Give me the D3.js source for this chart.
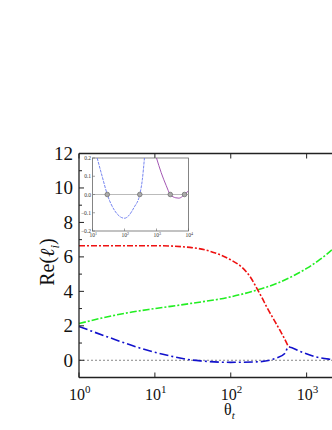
<!DOCTYPE html>
<html>
<head>
<meta charset="utf-8">
<script src="https://cdn.jsdelivr.net/npm/d3@7"></script>
<style>
body{margin:0;background:#fff;overflow:hidden}
svg text{font-family:"Liberation Serif","Times New Roman",serif}
</style>
</head>
<body>
<script>
// main curves (theta_t, Re value)
const redTheta=[1,10,29,53,98,140,180,219,260,297,400,470,550,575,600]
const redVal=[6.65,6.65,6.55,6.33,5.85,5.4,4.85,4.2,3.6,3.1,2.1,1.55,0.97,0.8,0.78]
const greenTheta=[1,2,5,10,30,100,200,400,700,1000,1500,2200,3000]
const greenVal=[2.13,2.45,2.8,3.0,3.3,3.68,4.02,4.45,4.95,5.33,5.85,6.45,7.1]
const blueTheta=[1,2.4,6.7,18.4,30,41,100,200,300,400,515,575,815,1350,2000,3000]
const blueVal=[1.96,1.35,0.68,0.19,0.02,-0.04,-0.12,-0.1,-0.03,0.13,0.39,0.77,0.52,0.19,0.06,-0.02]
// inset curves
const inBlueTheta=[14,20,29,50,100,200,300,360,420]
const inBlueVal=[0.2,0.1,0,-0.09,-0.13,-0.07,0,0.08,0.2]
const inRedTheta=[1000,1400,2000,2700,4000,5000,6500,7500,10000]
const inRedVal=[0.2,0.12,0.05,0,-0.018,-0.02,-0.01,0,0.02]
const inZeros=[29,300,2700,7500]
const yTicks=[0,2,4,6,8,10,12]
const xTicks=[0,1,2,3,4]
const inYTicks=[-0.2,-0.1,0.0,0.1,0.2]
const inXTicks=[1,2,3,4]

const W=332,H=430
const svg=d3.select("body").append("svg").attr("width",W).attr("height",H)

const x=d3.scaleLog().domain([1,1e4]).range([79,382.5])
const y=d3.scaleLinear().domain([-1,12]).range([377.5,153.5])

// zero reference
svg.append("line").attr("x1",x(1)).attr("x2",W).attr("y1",y(0)).attr("y2",y(0))
 .attr("stroke","#888").attr("stroke-width",1).attr("stroke-dasharray","2,2")

const line=d3.line().x(d=>x(d[0])).y(d=>y(d[1])).curve(d3.curveMonotoneX)
const series=[
 {t:greenTheta,v:greenVal,c:"#22ee22",dash:"7,2,2,2"},
 {t:redTheta,v:redVal,c:"#ee1111",dash:"6,2,2,2"},
 {t:blueTheta,v:blueVal,c:"#1111cc",dash:"9,3,2,3"}
]
series.forEach(s=>{
 svg.append("path").datum(s.t.map((t,i)=>[t,s.v[i]]))
  .attr("d",line).attr("fill","none").attr("stroke",s.c)
  .attr("stroke-width",1.6).attr("stroke-dasharray",s.dash)
})

// axes frame
const ax="#222"
svg.append("line").attr("x1",x(1)).attr("x2",x(1)).attr("y1",y(12)).attr("y2",y(-1)).attr("stroke",ax).attr("stroke-width",1.3)
svg.append("line").attr("x1",x(1)).attr("x2",W).attr("y1",y(-1)).attr("y2",y(-1)).attr("stroke",ax).attr("stroke-width",1.3)
svg.append("line").attr("x1",x(1)).attr("x2",W).attr("y1",y(12)).attr("y2",y(12)).attr("stroke",ax).attr("stroke-width",1.3)

// y ticks
d3.range(-1,13).forEach(v=>{
 const major=v%2===0
 svg.append("line").attr("x1",x(1)).attr("x2",x(1)+(major?5:3)).attr("y1",y(v)).attr("y2",y(v)).attr("stroke",ax)
})
svg.selectAll(".yl").data(yTicks).enter().append("text")
 .attr("x",73).attr("y",d=>y(d)+6.5).attr("text-anchor","end").attr("fill","#111")
 .attr("font-size",19).text(d=>d)

// x ticks
xTicks.forEach(e=>{
 const px=x(Math.pow(10,e))
 svg.append("line").attr("x1",px).attr("x2",px).attr("y1",y(-1)).attr("y2",y(-1)-5).attr("stroke",ax)
 svg.append("line").attr("x1",px).attr("x2",px).attr("y1",y(12)).attr("y2",y(12)+5).attr("stroke",ax)
 if(px>W-10) return
 const t=svg.append("text").attr("x",px-10).attr("y",400).attr("fill","#111").attr("font-size",16)
 t.append("tspan").text("10")
 t.append("tspan").attr("dy",-7).attr("font-size",11).text(e)
})

// axis labels
const yl=svg.append("text").attr("transform","translate(54,262) rotate(-90)").attr("fill","#111")
 .attr("text-anchor","middle").attr("font-size",20)
yl.append("tspan").text("Re(")
yl.append("tspan").attr("font-style","italic").text("ℓ")
yl.append("tspan").attr("dy",5).attr("font-size",13).attr("font-style","italic").text("i")
yl.append("tspan").attr("dy",-5).text(")")
const xl=svg.append("text").attr("x",224).attr("y",415).attr("fill","#111").attr("font-size",16)
xl.append("tspan").text("θ")
xl.append("tspan").attr("dy",4).attr("font-size",11).attr("font-style","italic").text("t")

// inset
const ix=d3.scaleLog().domain([10,1e4]).range([92.5,188.5])
const iy=d3.scaleLinear().domain([-0.2,0.2]).range([231,158])
const ins=svg.append("g")
ins.append("rect").attr("x",92.5).attr("y",158).attr("width",96).attr("height",73)
 .attr("fill","#fff").attr("stroke","#666").attr("stroke-width",0.8)
svg.append("clipPath").attr("id","ic").append("rect").attr("x",92.5).attr("y",158).attr("width",96).attr("height",73)
ins.append("line").attr("x1",92.5).attr("x2",188.5).attr("y1",iy(0)).attr("y2",iy(0)).attr("stroke","#aaa").attr("stroke-width",0.8)
const iline=d3.line().x(d=>ix(d[0])).y(d=>iy(d[1])).curve(d3.curveMonotoneX)
const ig=ins.append("g").attr("clip-path","url(#ic)")
ig.append("path").datum(inBlueTheta.map((t,i)=>[t,inBlueVal[i]])).attr("d",iline)
 .attr("fill","none").attr("stroke","#6677ee").attr("stroke-width",0.9).attr("stroke-dasharray","3,1")
ig.append("path").datum(inRedTheta.map((t,i)=>[t,inRedVal[i]])).attr("d",iline)
 .attr("fill","none").attr("stroke","#9944aa").attr("stroke-width",0.9)
ins.selectAll("circle").data(inZeros).enter().append("circle")
 .attr("cx",d=>ix(d)).attr("cy",iy(0)).attr("r",2.3).attr("fill","#aaa").attr("stroke","#555").attr("stroke-width",0.6)
inYTicks.forEach(v=>{
 ins.append("line").attr("x1",92.5).attr("x2",95).attr("y1",iy(v)).attr("y2",iy(v)).attr("stroke","#666").attr("stroke-width",0.6)
 ins.append("text").attr("x",91).attr("y",iy(v)+2).attr("text-anchor","end").attr("fill","#333")
  .attr("font-size",5.5).text(d3.format(".1f")(v))
})
inXTicks.forEach(e=>{
 const px=ix(Math.pow(10,e))
 ins.append("line").attr("x1",px).attr("x2",px).attr("y1",231).attr("y2",228.5).attr("stroke","#666").attr("stroke-width",0.6)
 const t=ins.append("text").attr("x",px-3).attr("y",237).attr("fill","#333").attr("font-size",5.5)
 t.append("tspan").text("10")
 t.append("tspan").attr("dy",-2).attr("font-size",4).text(e)
})
</script>
</body>
</html>
